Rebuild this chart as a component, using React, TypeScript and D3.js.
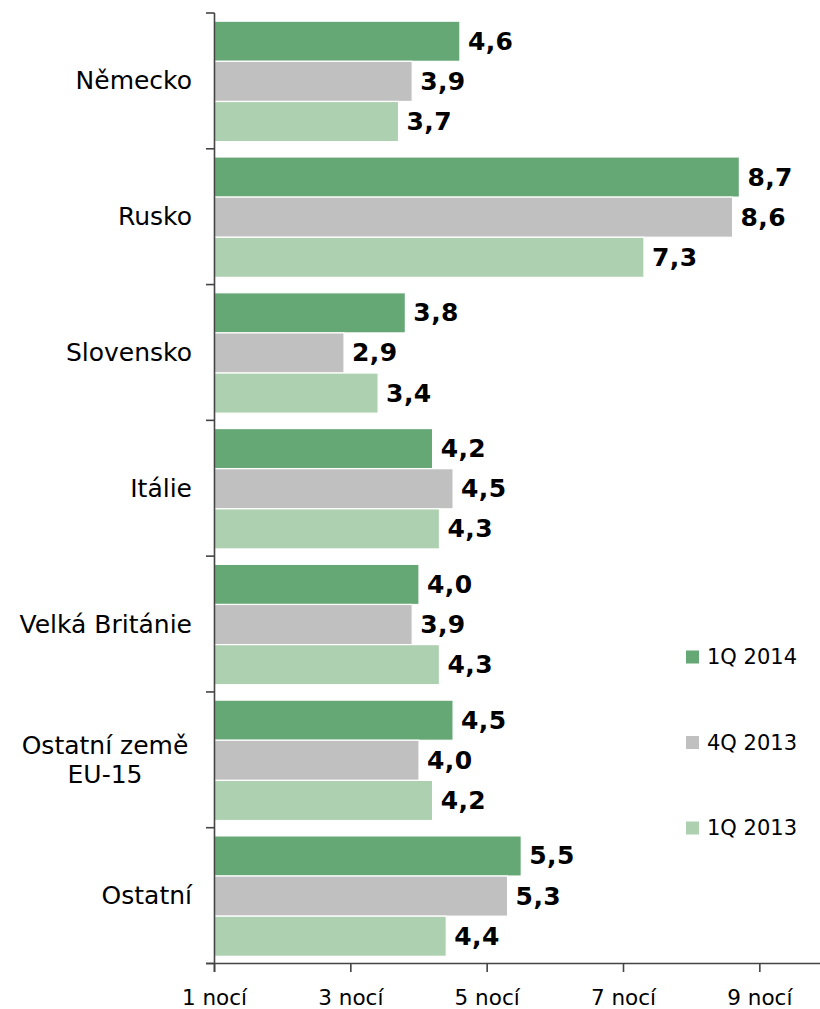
import React from "react";
import * as d3 from "d3";

const categories = ["Německo", "Rusko", "Slovensko", "Itálie", "Velká Británie", "Ostatní země\nEU-15", "Ostatní"];
const seriesNames = ["1Q 2014", "4Q 2013", "1Q 2013"];
const s1Q2014 = [4.6, 8.7, 3.8, 4.2, 4.0, 4.5, 5.5];
const s4Q2013 = [3.9, 8.6, 2.9, 4.5, 3.9, 4.0, 5.3];
const s1Q2013 = [3.7, 7.3, 3.4, 4.3, 4.3, 4.2, 4.4];
const xTicks = [1, 3, 5, 7, 9];
const xTickLabels = ["1 nocí", "3 nocí", "5 nocí", "7 nocí", "9 nocí"];
const colors = ["#66A776", "#C0C0C0", "#ADD1B0"];

const W = 820;
const H = 1009;
const FONT = "'DejaVu Sans', Verdana, sans-serif";

export default function App() {
  const series = [s1Q2014, s4Q2013, s1Q2013];
  const x = d3.scaleLinear().domain([1, 10]).range([214.5, 828]);
  const y = d3.scaleBand<string>().domain(categories).range([13, 963.5]).paddingInner(0).paddingOuter(0);
  const bandH = y.bandwidth();
  const inner = d3.scaleBand<number>().domain([0, 1, 2]).range([8.2, bandH - 7.2]).padding(0);
  const axisColor = "#444";
  const bounds = categories.map((c) => y(c) as number).concat([963.5]);

  return (
    <svg width={W} height={H} style={{ position: "absolute", left: 0, top: 0, background: "#fff" }} fontFamily={FONT}>
      {categories.map((c, ci) => (
        <g key={c}>
          {series.map((vals, si) => {
            const by = (y(c) as number) + (inner(si) as number);
            const bh = inner.bandwidth();
            const xe = x(vals[ci]);
            return (
              <g key={si}>
                <rect x={x(1)} y={by} width={xe - x(1)} height={bh} fill={colors[si]} stroke="#fff" strokeWidth={1.2} />
                <text x={xe + 8} y={by + bh / 2} dominantBaseline="central" fontWeight="bold" fontSize={25} letterSpacing={0.4} fill="#000">
                  {d3.format(".1f")(vals[ci]).replace(".", ",")}
                </text>
              </g>
            );
          })}
          {(() => {
            const lines = c.split("\n");
            const cy = (y(c) as number) + bandH / 2;
            const lh = 29;
            if (lines.length === 1) {
              return (
                <text x={192} y={cy} textAnchor="end" dominantBaseline="central" fontSize={25} fill="#000">
                  {c}
                </text>
              );
            }
            return lines.map((l, li) => (
              <text key={li} x={105} y={cy + (li - (lines.length - 1) / 2) * lh} textAnchor="middle" dominantBaseline="central" fontSize={25} fill="#000">
                {l}
              </text>
            ));
          })()}
        </g>
      ))}
      {/* y axis */}
      <line x1={214.5} x2={214.5} y1={13} y2={972} stroke={axisColor} strokeWidth={1.6} />
      {bounds.map((b, i) => (
        <line key={i} x1={206} x2={214.5} y1={b} y2={b} stroke={axisColor} strokeWidth={1.6} />
      ))}
      {/* x axis */}
      <line x1={206} x2={W} y1={963.5} y2={963.5} stroke={axisColor} strokeWidth={1.6} />
      {xTicks.map((t, i) => (
        <g key={t}>
          <line x1={x(t)} x2={x(t)} y1={963.5} y2={972} stroke={axisColor} strokeWidth={1.6} />
          <text x={x(t)} y={997} textAnchor="middle" dominantBaseline="central" fontSize={21.5} fill="#000">
            {xTickLabels[i]}
          </text>
        </g>
      ))}
      {/* legend */}
      {seriesNames.map((n, i) => {
        const ly = 657 + i * 85.5;
        return (
          <g key={n}>
            <rect x={686} y={ly - 6.5} width={13} height={13} fill={colors[i]} />
            <text x={707} y={ly} dominantBaseline="central" fontSize={21} fill="#000">
              {n}
            </text>
          </g>
        );
      })}
    </svg>
  );
}
